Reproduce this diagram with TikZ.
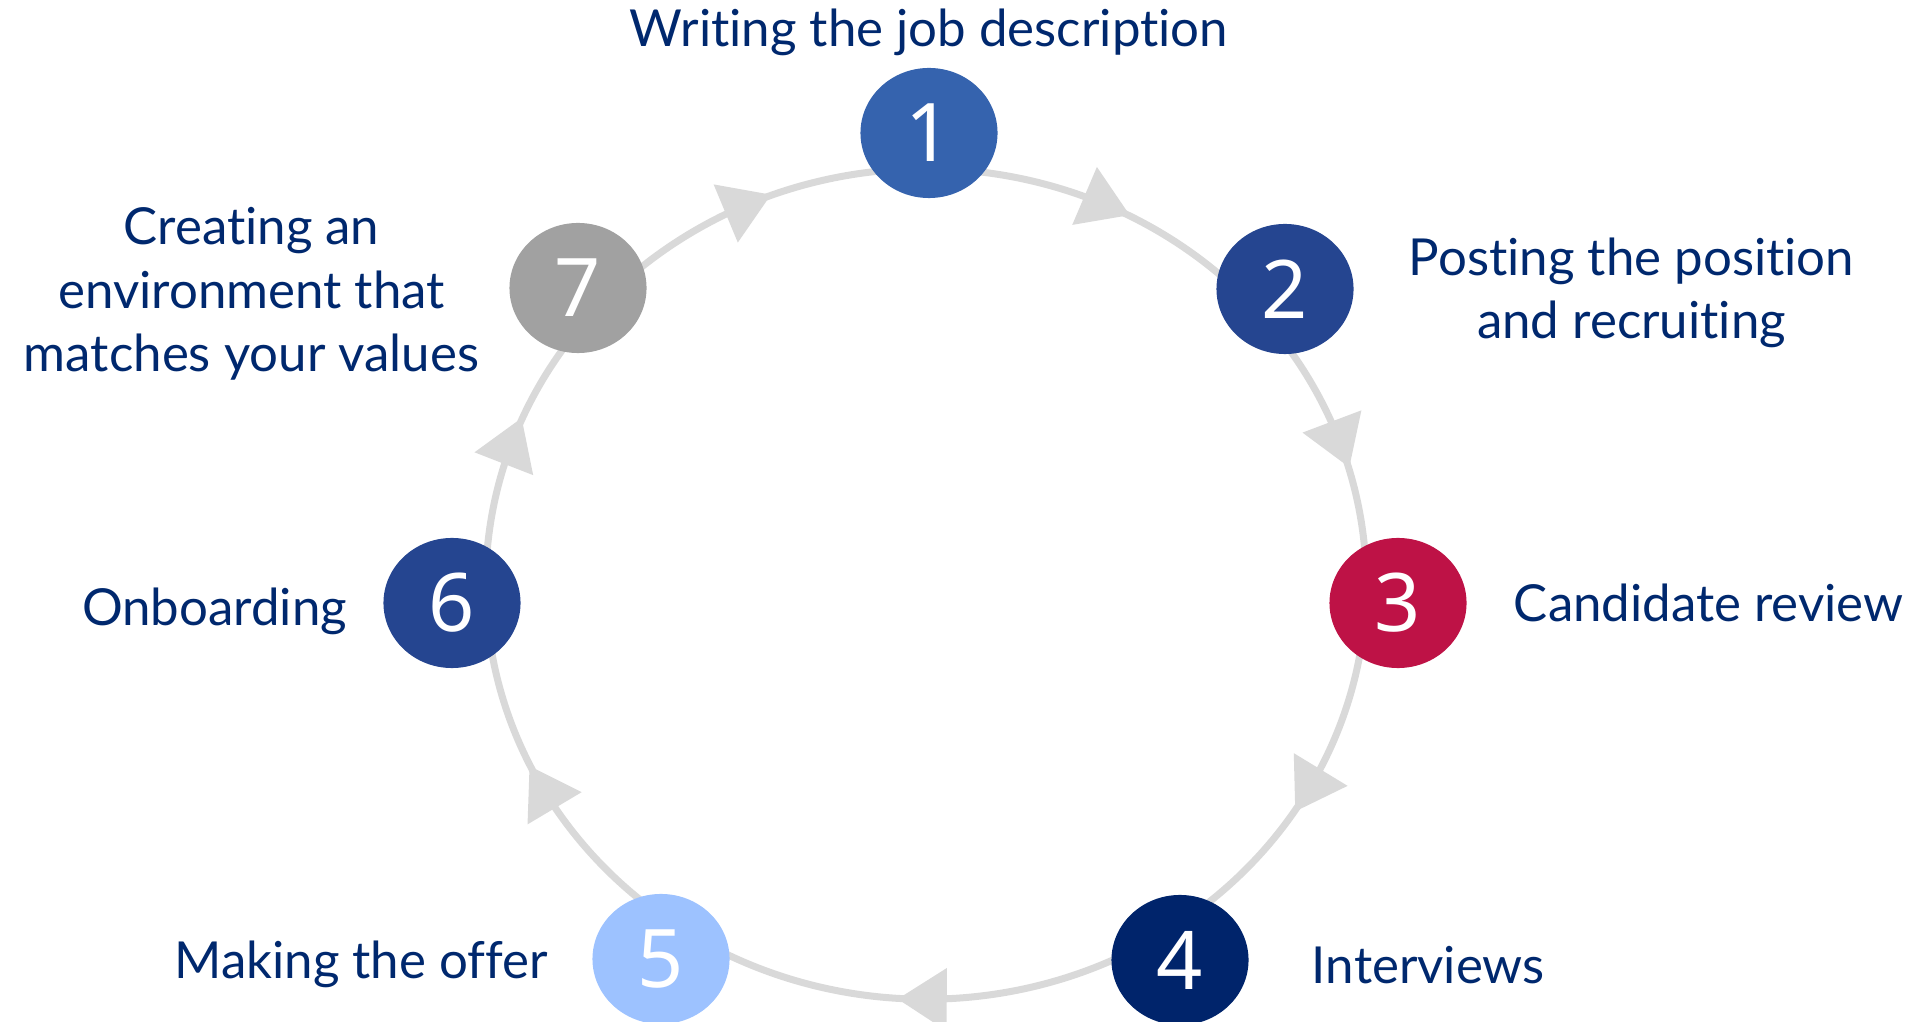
\documentclass[tikz,border=0pt]{standalone}
\usepackage{fontspec}
\setmainfont{Lato}[Ligatures=NoCommon]
\newfontfamily\numfont{Noto Sans}
\usetikzlibrary{
    shapes.geometric,
    positioning,
    decorations.markings,
    calc
}
\definecolor{Ring}{RGB}{217,217,217}
\definecolor{Ink}{RGB}{0,40,110}
\definecolor{Sone}{RGB}{53,99,174}
\definecolor{Stwo}{RGB}{37,69,144}
\definecolor{Sthree}{RGB}{190,18,70}
\definecolor{Sfour}{RGB}{0,36,107}
\definecolor{Sfive}{RGB}{157,194,255}
\definecolor{Sseven}{RGB}{161,161,161}
\tikzset{
    sdot/.style={
        ellipse, draw=none, fill=#1, text=white, minimum width=1.37cm,
        minimum height=1.30cm, inner sep=0pt,
        font=\numfont\fontsize{23}{23}\selectfont
    },
    slabel/.style={
        text=Ink, align=center, inner sep=0pt,
        font=\fontsize{14.5}{18.1}\selectfont
    },
    sring/.style={
        draw=Ring, line width=0.07cm, postaction={decorate},
        decoration={markings, mark=at position 0.5 with
            {\fill[Ring] (24.5,0) -- (-24.5,31.5) -- (-24.5,-31.5) -- cycle;}}
    },
}

\begin{document}
\begin{tikzpicture}[x=0.01cm, y=0.01cm]

    \useasboundingbox (0,0) rectangle (1924,-1022);

    % ring points under the steps
    \coordinate (ring) at (926,-584);
    \coordinate (r1) at ($(ring)+(90:4.4cm and 4.15cm)$);
    \coordinate (r2) at ($(ring)+(41:4.4cm and 4.15cm)$);
    \coordinate (r3) at ($(ring)+(-2:4.4cm and 4.15cm)$);
    \coordinate (r4) at ($(ring)+(-57:4.4cm and 4.15cm)$);
    \coordinate (r5) at ($(ring)+(-124:4.4cm and 4.15cm)$);
    \coordinate (r6) at ($(ring)+(-178:4.4cm and 4.15cm)$);
    \coordinate (r7) at ($(ring)+(138:4.4cm and 4.15cm)$);

    \draw [sring] (r1) arc [start angle=90, end angle=41, x radius=4.4cm, y radius=4.15cm];
    \draw [sring] (r2) arc [start angle=41, end angle=-2, x radius=4.4cm, y radius=4.15cm];
    \draw [sring] (r3) arc [start angle=-2, end angle=-57, x radius=4.4cm, y radius=4.15cm];
    \draw [sring] (r4) arc [start angle=-57, end angle=-124, x radius=4.4cm, y radius=4.15cm];
    \draw [sring] (r5) arc [start angle=-124, end angle=-178, x radius=4.4cm, y radius=4.15cm];
    \draw [sring] (r6) arc [start angle=182, end angle=138, x radius=4.4cm, y radius=4.15cm];
    \draw [sring] (r7) arc [start angle=138, end angle=90, x radius=4.4cm, y radius=4.15cm];

    % steps
    \node [sdot=Sone] (n1) at (929,-133) {1};
    \node [sdot=Stwo] (n2) at (1285,-289) {2};
    \node [sdot=Sthree] (n3) at (1398,-603) {3};
    \node [sdot=Sfour] (n4) at (1180,-960) {4};
    \node [sdot=Sfive] (n5) at (661,-959) {5};
    \node [sdot=Stwo] (n6) at (452,-603) {6};
    \node [sdot=Sseven] (n7) at (578,-288) {7};

    \node [slabel, above=0.21cm of n1, anchor=base] (l1) {Writing the job description};
    \node [slabel, right=0.54cm of n2, yshift=-0.04cm] (l2) {Posting the position\\and recruiting};
    \node [slabel, right=0.46cm of n3] (l3) {Candidate review};
    \node [slabel, right=0.62cm of n4, yshift=-0.05cm] (l4) {Interviews};
    \node [slabel, left=0.43cm of n5, yshift=-0.05cm] (l5) {Making the offer};
    \node [slabel, left=0.35cm of n6, yshift=-0.08cm] (l6) {Onboarding};
    \node [slabel, left=0.29cm of n7, yshift=-0.06cm] (l7) {Creating an\\environment that\\matches your values};

\end{tikzpicture}
\end{document}
